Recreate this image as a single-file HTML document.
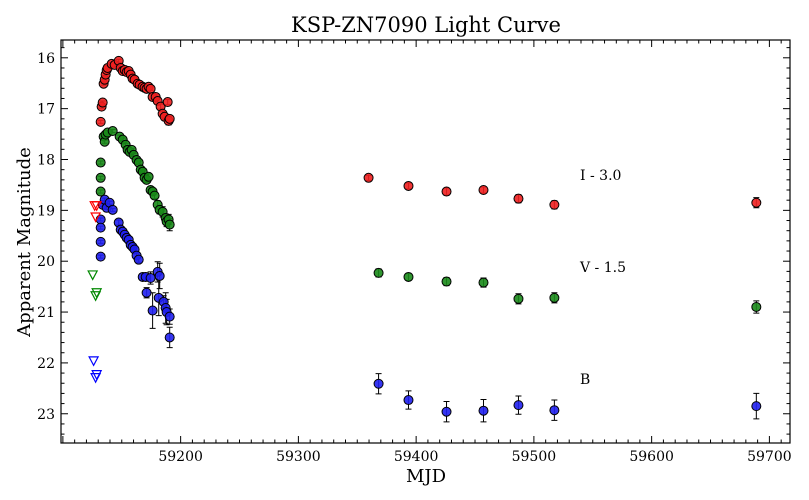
<!DOCTYPE html>
<html><head><meta charset="utf-8"><style>
html,body{margin:0;padding:0;background:#fff;}
svg{display:block;font-family:"DejaVu Serif","Liberation Serif",serif;}
</style></head><body>
<svg id="chart" width="809" height="500" viewBox="0 0 809 500" xmlns="http://www.w3.org/2000/svg">
<rect x="0" y="0" width="809" height="500" fill="#fff"/>
<text x="426" y="32" font-size="21" text-anchor="middle">KSP-ZN7090 Light Curve</text>
<text x="426" y="482" font-size="18" text-anchor="middle">MJD</text>
<text x="30" y="242" font-size="18" text-anchor="middle" transform="rotate(-90 30 242)">Apparent Magnitude</text>
<g id="plot"></g>
<rect x="61" y="40" width="729" height="403" fill="none" stroke="#000" stroke-width="1.2"/>
<text x="580" y="180" font-size="14">I - 3.0</text>
<text x="580" y="272" font-size="14">V - 1.5</text>
<text x="580" y="384" font-size="14">B</text>
</svg>
<script>
const xTicks=[59200,59300,59400,59500,59600,59700];
const yTicks=[16,17,18,19,20,21,22,23];
const iMjd=[59132.1,59132.9,59133.8,59134.6,59135.5,59136.3,59137.2,59138.0,59141.4,59144.0,59147.4,59149.1,59150.8,59152.5,59154.2,59155.9,59157.6,59159.2,59160.9,59163.5,59165.2,59167.7,59169.4,59171.1,59172.8,59174.5,59176.2,59178.8,59180.5,59183.0,59184.7,59186.4,59189.0,59189.8,59190.7,59359.6,59393.5,59425.8,59457.2,59486.9,59517.4,59688.9];
const iMag=[17.26,16.96,16.88,16.51,16.43,16.33,16.24,16.20,16.12,16.14,16.06,16.20,16.26,16.24,16.28,16.26,16.33,16.41,16.43,16.51,16.53,16.57,16.59,16.61,16.57,16.61,16.77,16.77,16.85,16.96,17.10,17.16,16.87,17.24,17.20,18.36,18.52,18.63,18.60,18.77,18.89,18.85];
const iErr=[0.03,0.03,0.03,0.03,0.03,0.03,0.03,0.03,0.03,0.03,0.03,0.03,0.03,0.03,0.03,0.03,0.03,0.03,0.03,0.03,0.03,0.03,0.03,0.03,0.03,0.03,0.04,0.04,0.04,0.05,0.05,0.05,0.05,0.08,0.06,0.05,0.06,0.07,0.06,0.08,0.08,0.1];
const vMjd=[59132.1,59132.1,59132.1,59134.6,59135.5,59136.3,59138.0,59142.3,59148.2,59150.8,59153.3,59155.0,59156.7,59158.4,59160.1,59162.6,59164.4,59166.1,59167.8,59169.4,59171.1,59172.8,59174.5,59176.2,59177.9,59180.5,59182.2,59184.7,59187.3,59188.1,59189.8,59190.7,59368.1,59393.5,59425.8,59457.2,59486.9,59517.4,59688.9];
const vMag=[18.06,18.36,18.63,17.55,17.65,17.51,17.47,17.44,17.55,17.61,17.71,17.81,17.85,17.81,17.91,18.01,18.06,18.20,18.24,18.36,18.40,18.34,18.60,18.63,18.71,18.89,18.99,19.03,19.15,19.22,19.18,19.28,20.23,20.31,20.40,20.42,20.74,20.72,20.90];
const vErr=[0.03,0.03,0.03,0.03,0.03,0.03,0.03,0.03,0.03,0.03,0.03,0.03,0.03,0.03,0.03,0.03,0.03,0.03,0.03,0.03,0.05,0.06,0.06,0.06,0.06,0.08,0.08,0.1,0.08,0.1,0.1,0.12,0.08,0.07,0.08,0.09,0.1,0.1,0.12];
const bMjd=[59132.1,59132.1,59132.1,59132.1,59133.8,59135.5,59137.2,59139.7,59142.3,59147.4,59149.1,59150.8,59152.5,59154.2,59155.9,59157.6,59159.2,59160.9,59162.6,59164.4,59167.8,59170.3,59171.1,59174.5,59176.2,59180.5,59182.2,59181.4,59185.6,59187.3,59188.1,59190.7,59190.7,59368.1,59393.5,59425.8,59457.2,59486.9,59517.4,59688.9];
const bMag=[19.18,19.34,19.62,19.91,18.89,18.79,18.95,18.85,18.99,19.24,19.38,19.42,19.48,19.54,19.58,19.68,19.72,19.77,19.89,19.97,20.31,20.31,20.62,20.33,20.97,20.21,20.29,20.72,20.80,20.92,21.00,21.09,21.50,22.41,22.73,22.96,22.94,22.83,22.93,22.85];
const bErr=[0.03,0.03,0.03,0.03,0.03,0.03,0.03,0.03,0.03,0.05,0.05,0.05,0.05,0.05,0.05,0.05,0.05,0.05,0.05,0.05,0.06,0.08,0.1,0.12,0.35,0.2,0.25,0.35,0.12,0.3,0.25,0.15,0.2,0.2,0.18,0.2,0.22,0.18,0.2,0.25];
const iLimMjd=[59127.0,59128.7,59127.8], iLimMag=[18.91,18.91,19.13];
const vLimMjd=[59125.3,59128.7,59127.8], vLimMag=[20.27,20.62,20.68];
const bLimMjd=[59126.1,59128.7,59127.8], bLimMag=[21.96,22.23,22.29];

const L=61,R=790,T=40,B=443;
const X0=59098.4,X1=59717.5,Y0=15.65,Y1=23.575;
const xs=v=>L+(v-X0)/(X1-X0)*(R-L);
const ys=v=>T+(v-Y0)/(Y1-Y0)*(B-T);
const NS='http://www.w3.org/2000/svg';
const g=document.getElementById('plot');
function mk(tag,attrs){const e=document.createElementNS(NS,tag);for(const k in attrs)e.setAttribute(k,attrs[k]);g.appendChild(e);return e;}

// ticks
for(let m=59100;m<=59710;m+=10){
  const x=xs(m); if(x<L||x>R) continue;
  const major=(m%100===0);const len=major?7:3.5;
  const t1=mk('line',{x1:x,y1:B,x2:x,y2:B-len,stroke:'#000','stroke-width':1});
  
  
  const t2=mk('line',{x1:x,y1:T,x2:x,y2:T+len,stroke:'#000','stroke-width':1});
  
  
}
xTicks.forEach(m=>{
  const t=mk('text',{x:xs(m),y:B+18,'font-size':14,'text-anchor':'middle'});
  t.textContent=m;
  
  
});
for(let k=78;k<=118;k++){
  const v=k/5; const y=ys(v); if(y<T||y>B) continue;
  const major=(k%5===0);const len=major?7:3.5;
  const t1=mk('line',{x1:L,y1:y,x2:L+len,y2:y,stroke:'#000','stroke-width':1});
  
  
  const t2=mk('line',{x1:R,y1:y,x2:R-len,y2:y,stroke:'#000','stroke-width':1});
  
  
}
yTicks.forEach(v=>{
  const t=mk('text',{x:L-6,y:ys(v)+5,'font-size':14,'text-anchor':'end'});
  t.textContent=v;
  
  
});

function series(mjd,mag,err,color,name){
  mjd.forEach((m,i)=>{
    const x=xs(m),y=ys(mag[i]),y1=ys(mag[i]-err[i]),y2=ys(mag[i]+err[i]);
    const e=mk('path',{d:`M${x},${y1}V${y2}M${x-3},${y1}H${x+3}M${x-3},${y2}H${x+3}`,stroke:'#000','stroke-width':1,fill:'none'});
    
    
  });
  mjd.forEach((m,i)=>{
    const c=mk('circle',{cx:xs(m),cy:ys(mag[i]),r:4.5,fill:color,stroke:'#000','stroke-width':1,'fill-opacity':0.9});
    
    
  });
}
function limits(mjd,mag,color,name){
  mjd.forEach((m,i)=>{
    const x=xs(m),y=ys(mag[i]);
    const p=mk('path',{d:`M${x-4.5},${y-4}L${x+4.5},${y-4}L${x},${y+4.5}Z`,fill:'none',stroke:color,'stroke-width':1.2});
    
    
  });
}
series(iMjd,iMag,iErr,'#f02020','i-band');
series(vMjd,vMag,vErr,'#1a8a1a','v-band');
series(bMjd,bMag,bErr,'#2020f0','b-band');
limits(iLimMjd,iLimMag,'#f00','i-band');
limits(vLimMjd,vLimMag,'#080','v-band');
limits(bLimMjd,bLimMag,'#00f','b-band');
</script>
</body></html>
